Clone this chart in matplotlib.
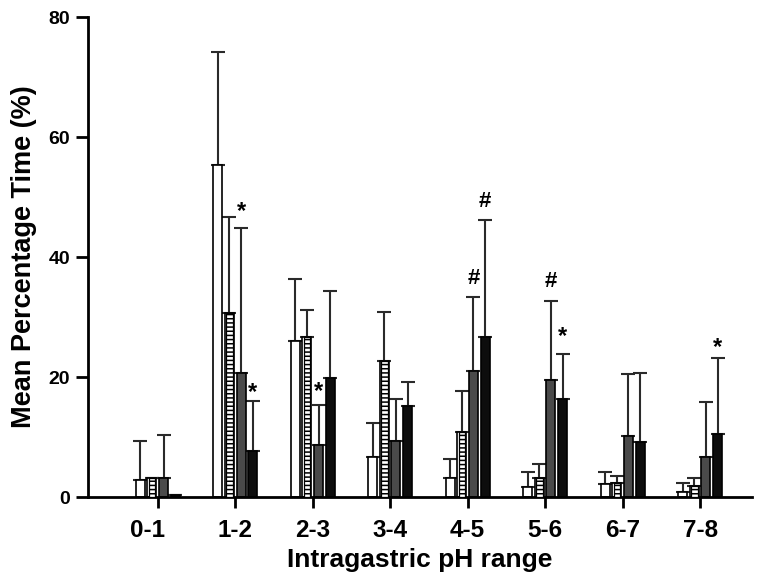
import numpy as np
import matplotlib
matplotlib.use("Agg")
import matplotlib.pyplot as plt
from matplotlib.transforms import offset_copy, ScaledTranslation

# ── datos ─────────────────────────────────────────────────────────────────
rangos = ["0-1", "1-2", "2-3", "3-4", "4-5", "5-6", "6-7", "7-8"]

blanco = [2.9, 55.3, 26.0, 6.7, 3.1, 1.7, 2.1, 0.9]
blanco_sd = [6.5, 18.9, 10.3, 5.6, 3.2, 2.4, 2.1, 1.4]

rayado = [3.1, 30.6, 26.7, 22.7, 10.8, 3.1, 2.3, 1.9]
rayado_sd = [0.0, 16.1, 4.5, 8.2, 6.8, 2.4, 1.2, 1.2]

gris = [3.2, 20.7, 8.6, 9.3, 21.0, 19.5, 10.2, 6.6]
gris_sd = [7.1, 24.2, 6.7, 7.1, 12.4, 13.1, 10.3, 9.2]

negro = [0.4, 7.6, 19.8, 15.1, 26.7, 16.3, 9.1, 10.5]
negro_sd = [0.0, 8.4, 14.6, 4.1, 19.4, 7.6, 11.6, 12.7]

# (grupo, serie, simbolo, altura)
marcas = [
    (1, 2, "*", 49.2), (1, 3, "*", 19.1), (2, 2, "*", 19.2),
    (4, 2, "#", 36.4), (4, 3, "#", 49.2),
    (5, 2, "#", 35.9), (5, 3, "*", 28.4),
    (7, 3, "*", 26.5),
]

plt.rcParams["font.family"] = ["Liberation Sans", "DejaVu Sans"]
plt.rcParams["hatch.color"] = "black"
plt.rcParams["hatch.linewidth"] = 1.1

fig = plt.figure(figsize=(7.66, 5.79), dpi=100)
ax = fig.add_axes([88 / 766, 1 - 497 / 579, (752 - 88) / 766, (497 - 17) / 579])

x = np.arange(len(rangos))
desp = [-0.225, -0.075, 0.075, 0.225]
w = 0.116
err_kw = dict(fmt="none", ecolor="#2a2a2a", elinewidth=1.5, capsize=5, capthick=1.5, zorder=1)


def barras(pos, vals, sd, **kw):
    ax.bar(pos, vals, w, edgecolor="black", linewidth=1.2, zorder=2, **kw)
    ax.errorbar(pos, vals, yerr=[np.zeros(len(vals)), sd], **err_kw)


barras(x + desp[0], blanco, blanco_sd, color="white")
# barra rayada: marco exterior + escalera interior
barras(x + desp[1], rayado, rayado_sd, color="white")
ax.bar(x + desp[1], rayado, w * 0.72, color="white", edgecolor="black",
       linewidth=0.9, hatch="----", zorder=3)
barras(x + desp[2], gris, gris_sd, color="#4a4a4a")
barras(x + desp[3], negro, negro_sd, color="#0d0d0d")

for g, s, sim, yv in marcas:
    if sim == "*":
        tr = offset_copy(ax.transData, fig=fig, y=-7, units="points")
        ax.text(x[g] + desp[s], yv, sim, transform=tr, ha="center", va="center",
                fontsize=17, fontweight="bold")
    else:
        ax.text(x[g] + desp[s], yv, sim, ha="center", va="center",
                fontsize=16, fontweight="bold")

ax.set_xlim(-0.9, 7.67)
ax.set_ylim(0, 80)
ax.set_yticks([0, 20, 40, 60, 80])
ax.set_xticks(x)
ax.set_xticklabels(rangos)

for lado in ["top", "right"]:
    ax.spines[lado].set_visible(False)
for lado in ["left", "bottom"]:
    ax.spines[lado].set_linewidth(2)

ax.tick_params(axis="y", direction="out", length=9, width=2, pad=4, labelsize=14)
ax.tick_params(axis="x", direction="out", length=8, width=2, pad=8, labelsize=17.5)
for t in ax.get_yticklabels() + ax.get_xticklabels():
    t.set_fontweight("bold")
# la etiqueta 0-1 aparece algo desplazada a la izquierda en el original
lab0 = ax.get_xticklabels()[0]
lab0.set_transform(lab0.get_transform() + ScaledTranslation(-10 / 100, 0, fig.dpi_scale_trans))

ax.set_xlabel("Intragastric pH range", fontsize=19, fontweight="bold", labelpad=4)
ax.set_ylabel("Mean Percentage Time (%)", fontsize=19.5, fontweight="bold", labelpad=8)

fig.savefig("out.png", dpi=100)
